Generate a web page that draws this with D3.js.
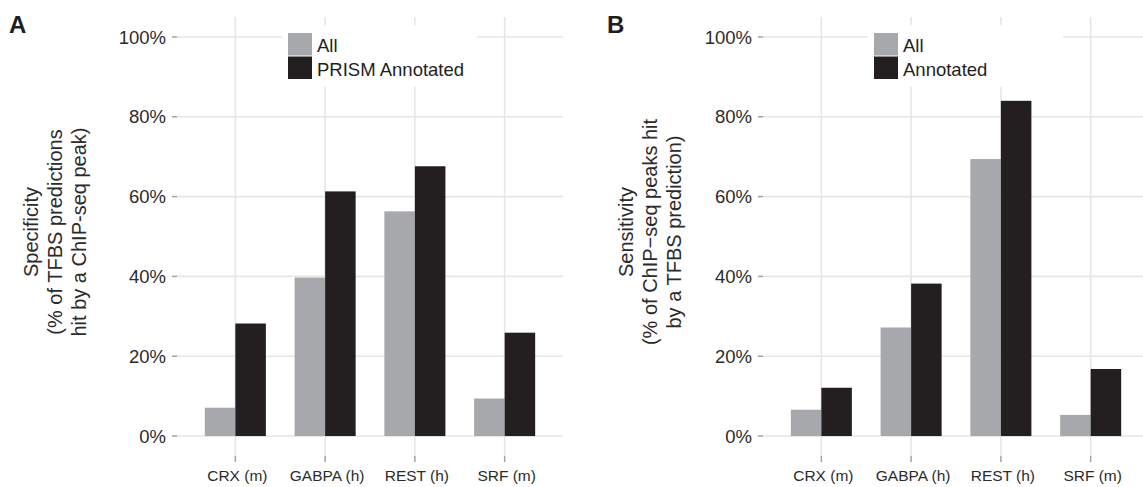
<!DOCTYPE html>
<html>
<head>
<meta charset="utf-8">
<script src="https://cdn.jsdelivr.net/npm/d3@7"></script>
<style>
  body { margin: 0; background: #fff; }
  svg text { font-family: "Liberation Sans", Arial, Helvetica, sans-serif; }
</style>
</head>
<body>
<svg id="main" width="1143" height="487"></svg>
<script>
// values (percent)
var categories = ["CRX (m)", "GABPA (h)", "REST (h)", "SRF (m)"];
var specAll = [7.1, 39.7, 56.3, 9.4];
var specAnnotated = [28.2, 61.3, 67.6, 25.9];
var sensAll = [6.6, 27.2, 69.4, 5.3];
var sensAnnotated = [12.1, 38.2, 84.0, 16.8];
var seriesA = ["All", "PRISM Annotated"];
var seriesB = ["All", "Annotated"];
var yTicks = [0, 20, 40, 60, 80, 100];

var colors = ["#a7a8ab", "#231f20"];
var gridColor = "#e6e6e6";
var tickColor = "#a3a3a3";

var svg = d3.select("#main");

// panel geometry (window.top is taken, so panelTop)
var panelTop = 17, panelBottom = 456, pw = 386;

function drawPanel(left, letter, letterX, titleLines, titleX, series, allVals, annVals)
{
    var g = svg.append("g");

    var y = d3.scaleLinear().domain([-5, 105]).range([panelBottom, panelTop]);
    var x = d3.scaleBand().domain(categories)
        .range([left, left + pw])
        .paddingInner(0.32).paddingOuter(0.31);
    var x1 = d3.scaleBand().domain(series).range([0, x.bandwidth()]);

    // grid
    g.selectAll(".hgrid").data(yTicks).enter().append("line")
        .attr("x1", left).attr("x2", left + pw)
        .attr("y1", function(d) { return y(d); })
        .attr("y2", function(d) { return y(d); })
        .attr("stroke", gridColor).attr("stroke-width", 1.6);
    g.selectAll(".vgrid").data(categories).enter().append("line")
        .attr("x1", function(d) { return x(d) + x.bandwidth() / 2; })
        .attr("x2", function(d) { return x(d) + x.bandwidth() / 2; })
        .attr("y1", panelTop).attr("y2", panelBottom)
        .attr("stroke", gridColor).attr("stroke-width", 1.6);

    // bars
    var rows = categories.map(function(c, i) {
        return [{cat: c, s: series[0], v: allVals[i]}, {cat: c, s: series[1], v: annVals[i]}];
    });
    var groups = g.selectAll(".grp").data(rows).enter().append("g")
        .attr("transform", function(d) { return "translate(" + x(d[0].cat) + ",0)"; });
    groups.selectAll("rect").data(function(d) { return d; }).enter().append("rect")
        .attr("x", function(d) { return x1(d.s); })
        .attr("width", x1.bandwidth())
        .attr("y", function(d) { return y(d.v); })
        .attr("height", function(d) { return y(0) - y(d.v); })
        .attr("fill", function(d, i) { return colors[i]; });

    // y axis ticks + labels
    g.selectAll(".ytick").data(yTicks).enter().append("line")
        .attr("x1", left - 5).attr("x2", left)
        .attr("y1", function(d) { return y(d); })
        .attr("y2", function(d) { return y(d); })
        .attr("stroke", tickColor).attr("stroke-width", 1.5);
    g.selectAll(".ylab").data(yTicks).enter().append("text")
        .attr("x", left - 11)
        .attr("y", function(d) { return y(d); })
        .attr("dy", "0.36em")
        .attr("text-anchor", "end")
        .attr("font-size", "18.5px")
        .attr("fill", "#2b2b2b")
        .text(function(d) { return d + "%"; });

    // x axis ticks + labels
    g.selectAll(".xtick").data(categories).enter().append("line")
        .attr("x1", function(d) { return x(d) + x.bandwidth() / 2; })
        .attr("x2", function(d) { return x(d) + x.bandwidth() / 2; })
        .attr("y1", panelBottom).attr("y2", panelBottom + 6)
        .attr("stroke", tickColor).attr("stroke-width", 1.5);
    g.selectAll(".xlab").data(categories).enter().append("text")
        .attr("x", function(d) { return x(d) + x.bandwidth() / 2 + 2; })
        .attr("y", 481)
        .attr("text-anchor", "middle")
        .attr("font-size", "15.5px")
        .attr("fill", "#2b2b2b")
        .text(function(d) { return d; });

    // axis title, three lines rotated
    titleLines.forEach(function(t, i) {
        var bx = titleX + i * 24;
        g.append("text")
            .attr("transform", "translate(" + bx + ",232) rotate(-90)")
            .attr("text-anchor", "middle")
            .attr("font-size", "20px")
            .attr("fill", "#2b2b2b")
            .text(t);
    });

    // legend
    var lx = left + 111;
    g.append("rect")
        .attr("x", lx - 6).attr("y", 25)
        .attr("width", 195).attr("height", 62)
        .attr("fill", "#fff");
    series.forEach(function(s, i) {
        g.append("rect")
            .attr("x", lx).attr("y", 33 + i * 23.5)
            .attr("width", 24).attr("height", 22.5)
            .attr("fill", colors[i]);
        g.append("text")
            .attr("x", lx + 29).attr("y", 52 + i * 24)
            .attr("font-size", "18.5px")
            .attr("fill", "#1e1e1e")
            .text(s);
    });

    // panel letter
    svg.append("text")
        .attr("x", letterX).attr("y", 33)
        .attr("font-size", "24px")
        .attr("font-weight", "bold")
        .attr("fill", "#1e1e1e")
        .text(letter);
}

drawPanel(177, "A", 9,
    ["Specificity", "(% of TFBS predictions", "hit by a ChIP-seq peak)"], 38,
    seriesA, specAll, specAnnotated);
drawPanel(763, "B", 607,
    ["Sensitivity", "(% of ChIP\u2212seq peaks hit", "by a TFBS prediction)"], 633,
    seriesB, sensAll, sensAnnotated);
</script>
</body>
</html>
